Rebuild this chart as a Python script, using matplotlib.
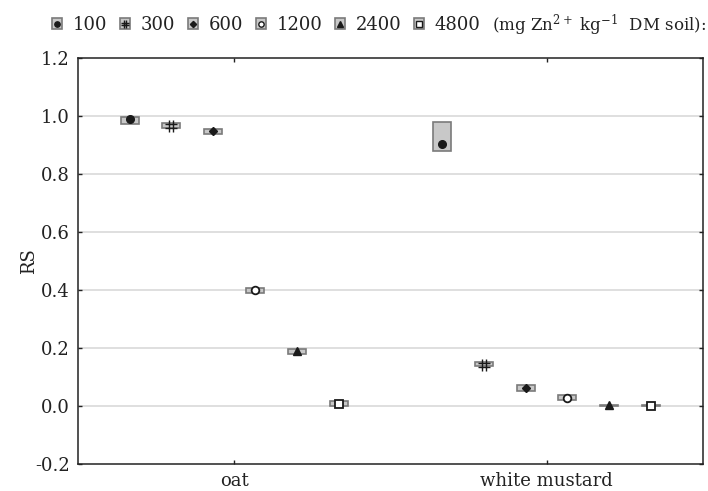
import matplotlib
matplotlib.use("Agg")
import matplotlib.pyplot as plt
import numpy as np
from matplotlib.patches import Rectangle
from matplotlib.lines import Line2D
from matplotlib.path import Path
from matplotlib.legend_handler import HandlerTuple

plt.rcParams['font.family'] = ['DejaVu Serif']
plt.rcParams['mathtext.fontset'] = 'dejavuserif'

categories = ['oat', 'white mustard']
doses = ['100', '300', '600', '1200', '2400', '4800']

oat_mean = [0.988, 0.966, 0.946, 0.398, 0.187, 0.007]
oat_low = [0.972, 0.958, 0.938, 0.390, 0.179, -0.001]
oat_high = [0.997, 0.974, 0.954, 0.406, 0.194, 0.0145]

mus_mean = [0.902, 0.141, 0.060, 0.028, 0.001, 0.000]
mus_low = [0.878, 0.136, 0.051, 0.019, 0.000, 0.000]
mus_high = [0.978, 0.152, 0.070, 0.036, 0.002, 0.001]

means = [oat_mean, mus_mean]
lows = [oat_low, mus_low]
highs = [oat_high, mus_high]

hash_verts = [(-0.3, -1), (-0.3, 1), (0.3, -1), (0.3, 1),
              (-1, -0.3), (1, -0.3), (-1, 0.3), (1, 0.3)]
hash_codes = [Path.MOVETO, Path.LINETO] * 4
hash_marker = Path(hash_verts, hash_codes)

styles = [
    dict(marker='o', mfc='#1a1a1a', mec='#1a1a1a', ms=5.5),
    dict(marker=hash_marker, mfc='none', mec='#1a1a1a', ms=8, mew=1.0),
    dict(marker='D', mfc='#1a1a1a', mec='#1a1a1a', ms=4.5),
    dict(marker='o', mfc='white', mec='#1a1a1a', ms=5.5, mew=1.3),
    dict(marker='^', mfc='#1a1a1a', mec='#1a1a1a', ms=5.5),
    dict(marker='s', mfc='white', mec='#1a1a1a', ms=5.5, mew=1.3),
]

box_face = '#c8c8c8'
box_edge = '#7a7a7a'
fs = 13

fig = plt.figure(figsize=(7.08, 4.91), dpi=100)
ax = fig.add_axes([78/708, 1-463.7/491, (702.7-78)/708, (463.7-57.7)/491])

step = 0.134
bw = 0.0575
for ci in range(len(categories)):
    for di in range(len(doses)):
        xc = ci + (di - 2.5) * step
        lo, hi = lows[ci][di], highs[ci][di]
        ax.add_patch(Rectangle((xc - bw/2, lo), bw, hi - lo, facecolor=box_face,
                               edgecolor=box_edge, lw=1.2, zorder=3))
        ax.plot([xc], [means[ci][di]], linestyle='none', zorder=4, **styles[di])

ax.set_xlim(-0.5, 1.5)
ax.set_ylim(-0.2, 1.2)
ax.set_xticks(range(len(categories)))
ax.set_xticklabels(categories)
yt = np.arange(-0.2, 1.21, 0.2)
ax.set_yticks(yt)
ax.set_yticklabels([f'{v:.1f}' for v in yt])
for v in yt[1:-1]:
    ax.axhline(v, color='#d9d9d9', lw=1.2, zorder=1)
ax.tick_params(direction='in', length=3, width=1, top=True, right=True,
               labelsize=fs, colors='#222222', pad=6)
for s in ax.spines.values():
    s.set_color('#222222')
    s.set_linewidth(1.1)
ax.set_ylabel('RS', fontsize=fs, color='#222222')
ax.yaxis.set_label_coords(-0.064, 0.5)

handles = []
for di in range(len(doses)):
    p = Rectangle((0, 0), 1, 1, facecolor=box_face, edgecolor=box_edge, lw=1.2)
    st = dict(styles[di])
    st['ms'] = st['ms'] * 0.7
    if 'mew' in st:
        st['mew'] = 1.0
    m = Line2D([], [], linestyle='none', **st)
    handles.append((p, m))

leg = fig.legend(handles, doses, loc='center left', bbox_to_anchor=(52/708, 1-25/491),
                 ncol=6, frameon=False, fontsize=fs, handlelength=0.55, handleheight=0.55,
                 handletextpad=0.6, columnspacing=0.7, borderpad=0, borderaxespad=0,
                 handler_map={tuple: HandlerTuple(ndivide=1)})
for t in leg.get_texts():
    t.set_color('#222222')
fig.text(706/708, 1-25/491, '(mg Zn$^{2+}$ kg$^{-1}$  DM soil):', fontsize=12,
         va='center', ha='right', color='#222222')

fig.savefig('out.png', dpi=100)
